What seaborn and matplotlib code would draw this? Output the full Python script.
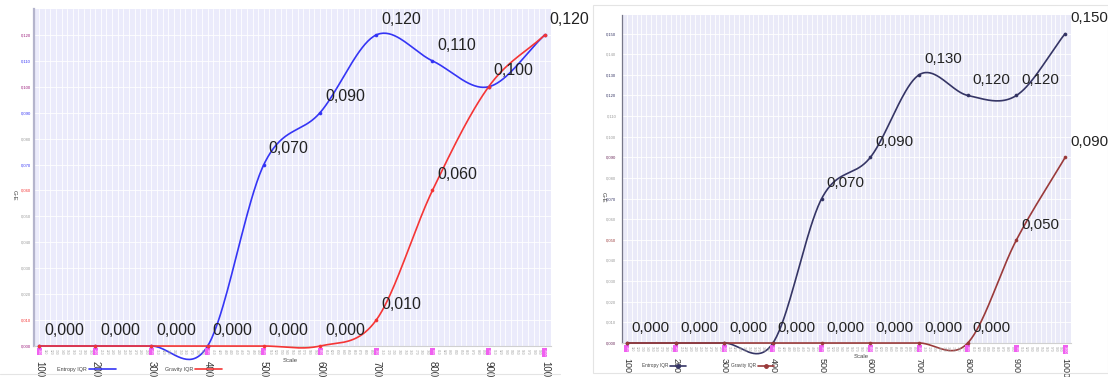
import numpy as np
import matplotlib
matplotlib.use("Agg")
import matplotlib.pyplot as plt
import seaborn as sns
from matplotlib.lines import Line2D
from matplotlib.patches import Rectangle

# values
scale = [100, 200, 300, 400, 500, 600, 700, 800, 900, 1000]
left_entropy = [0.0, 0.0, 0.0, 0.0, 0.070, 0.090, 0.120, 0.110, 0.100, 0.120]
left_gravity = [0.0, 0.0, 0.0, 0.0, 0.0, 0.0, 0.010, 0.060, 0.100, 0.120]
right_entropy = [0.0, 0.0, 0.0, 0.0, 0.070, 0.090, 0.130, 0.120, 0.120, 0.150]
right_gravity = [0.0, 0.0, 0.0, 0.0, 0.0, 0.0, 0.0, 0.0, 0.050, 0.090]
series_names = ["Entropy IQR", "Gravity IQR"]
x_label = "Scale"
y_label = "G-E"

sns.set_theme(style="white")
plt.rcParams["font.family"] = ["Liberation Sans", "DejaVu Sans"]

W, H = 1108, 377


def catmull_rom(xs, ys, steps=40):
    xs = np.asarray(xs, float)
    ys = np.asarray(ys, float)
    m = np.gradient(ys)
    out_x, out_y = [], []
    for i in range(len(xs) - 1):
        last = i == len(xs) - 2
        t = np.linspace(0, 1, steps, endpoint=last)
        h00 = 2 * t**3 - 3 * t**2 + 1
        h10 = t**3 - 2 * t**2 + t
        h01 = -2 * t**3 + 3 * t**2
        h11 = t**3 - t**2
        out_x.append(xs[i] + t * (xs[i + 1] - xs[i]))
        out_y.append(h00 * ys[i] + h10 * m[i] + h01 * ys[i + 1] + h11 * m[i + 1])
    return np.concatenate(out_x), np.concatenate(out_y)


def fmt(v):
    return f"{v:.3f}".replace(".", ",")


def draw_panel(fig, rect, entropy, gravity, cfg):
    ax = fig.add_axes([rect[0] / W, 1 - rect[3] / H, (rect[2] - rect[0]) / W,
                       (rect[3] - rect[1]) / H])
    ax.set_facecolor(cfg["bg"])
    colors = [cfg["c_ent"], cfg["c_grav"]]

    for vals, color in zip([entropy, gravity], colors):
        sx, sy = catmull_rom(scale, vals)
        sns.lineplot(x=sx, y=sy, color=color, lw=1.2, estimator=None, sort=False,
                     ax=ax, clip_on=False, zorder=3)
        sns.scatterplot(x=scale, y=vals, color=color, s=7, linewidth=0, ax=ax,
                        zorder=4, clip_on=False)

    # value labels (one label where both series share a point)
    for i, x in enumerate(scale):
        ax.annotate(fmt(entropy[i]), (x, entropy[i]), xytext=(3.5, 6),
                    textcoords="offset points", fontsize=cfg["lab_fs"],
                    color="#222222", ha="left", va="bottom",
                    annotation_clip=False, zorder=5)
        if not np.isclose(entropy[i], gravity[i]):
            ax.annotate(fmt(gravity[i]), (x, gravity[i]), xytext=(3.5, 6),
                        textcoords="offset points", fontsize=cfg["lab_fs"],
                        color="#222222", ha="left", va="bottom",
                        annotation_clip=False, zorder=5)

    ax.set_xlim(*cfg["xlim"])
    ax.set_ylim(0, cfg["ytop"])

    # y ticks, coloured by which series reaches that value
    yt = np.round(np.arange(0, cfg["ytop"] - 0.004, 0.01), 3)
    ax.set_yticks(yt, labels=[fmt(v) for v in yt])
    for lab, v in zip(ax.get_yticklabels(), yt):
        in_e = any(np.isclose(v, entropy))
        in_g = any(np.isclose(v, gravity))
        lab.set_color(cfg["c_both"] if in_e and in_g else
                      colors[0] if in_e else colors[1] if in_g else "#9a9a9a")
    ax.tick_params(axis="y", labelsize=3, length=cfg["ytick_len"], pad=2,
                   color="#777777", width=0.5)

    # x ticks: big rotated majors, tiny minors every 10
    ax.set_xticks(scale, labels=[str(s) for s in scale])
    ax.tick_params(axis="x", labelsize=cfg["xt_fs"], labelrotation=270,
                   length=0, pad=cfg["xt_pad"], labelcolor="#333333")
    minor = np.arange(100, 1001, 10)
    ax.set_xticks(minor, minor=True)
    ax.tick_params(axis="x", which="minor", length=0)
    for m in minor:
        major = m % 100 == 0
        ax.text(m, -0.008, str(m), transform=ax.get_xaxis_transform(),
                rotation=270, fontsize=2.4, ha="center", va="top",
                color="#ffffff" if major else "#a0a0a0", clip_on=False,
                bbox=dict(boxstyle="square,pad=0.15", fc="#f060f0", ec="none")
                if major else None)

    ax.grid(which="both", axis="x", color="white", lw=0.6)
    ax.grid(which="major", axis="y", color="white", lw=0.6)
    ax.set_axisbelow(True)

    for s in ["top", "right"]:
        ax.spines[s].set_visible(False)
    ax.spines["left"].set_color(cfg["spine"])
    ax.spines["left"].set_linewidth(cfg["spine_lw"])
    ax.spines["bottom"].set_color("#d0d0d0")
    ax.spines["bottom"].set_linewidth(0.8)

    ax.set_xlabel("")
    ax.set_ylabel("")
    fig.text(cfg["xl_pos"][0] / W, 1 - cfg["xl_pos"][1] / H, x_label,
             fontsize=4.3, color="#444444", ha="center", va="center")
    fig.text(cfg["yl_pos"][0] / W, 1 - cfg["yl_pos"][1] / H, y_label,
             fontsize=4.3, color="#444444", ha="center", va="center",
             rotation=270)

    handles = [Line2D([0], [0], color=c, lw=1.2, marker=cfg["leg_marker"],
                      markersize=2.5) for c in colors]
    ax.legend(handles, series_names, loc="center left", markerfirst=False,
              ncol=2, frameon=False, fontsize=cfg["leg_fs"],
              handlelength=cfg["leg_hl"], handletextpad=0.4,
              columnspacing=cfg["leg_cs"], borderpad=0, borderaxespad=0,
              bbox_to_anchor=(cfg["leg_pos"][0] / W, 1 - cfg["leg_pos"][1] / H),
              bbox_transform=fig.transFigure, labelcolor="#444444")
    return ax


fig = plt.figure(figsize=(W / 100, H / 100), dpi=100)
fig.patch.set_facecolor("white")

# panel frames
fig.add_artist(Rectangle((593 / W, 1 - 373 / H), 1 - 593 / W, (373 - 5) / H,
                         transform=fig.transFigure, fill=False,
                         ec="#e4e4e4", lw=0.8))
fig.add_artist(Line2D([0, 560 / W], [1 - 374 / H] * 2, transform=fig.transFigure,
                      color="#e4e4e4", lw=0.8))

left_cfg = dict(bg="#ebebfb", c_ent="#3535f5", c_grav="#f53535", c_both="#9a1a7a",
                xlim=(91, 1011), ytop=0.130, lab_fs=11.5, xt_fs=7, xt_pad=11,
                ytick_len=0, spine="#b4b4cc", spine_lw=1.6,
                xl_pos=(290, 360), yl_pos=(14, 195), leg_marker=None,
                leg_fs=3.9, leg_hl=5.0, leg_cs=9.0, leg_pos=(57, 369))
right_cfg = dict(bg="#eaeaf8", c_ent="#353565", c_grav="#9a3a3a", c_both="#6a2a5a",
                 xlim=(90, 1012), ytop=0.159, lab_fs=10.8, xt_fs=6.5, xt_pad=11,
                 ytick_len=2, spine="#777788", spine_lw=0.9,
                 xl_pos=(861, 357), yl_pos=(603, 197), leg_marker="o",
                 leg_fs=3.4, leg_hl=3.4, leg_cs=9.5, leg_pos=(642, 366))

draw_panel(fig, (34, 9, 551, 346), left_entropy, left_gravity, left_cfg)
draw_panel(fig, (622, 15, 1071, 343), right_entropy, right_gravity, right_cfg)

fig.savefig("out.png", dpi=100, facecolor="white")
